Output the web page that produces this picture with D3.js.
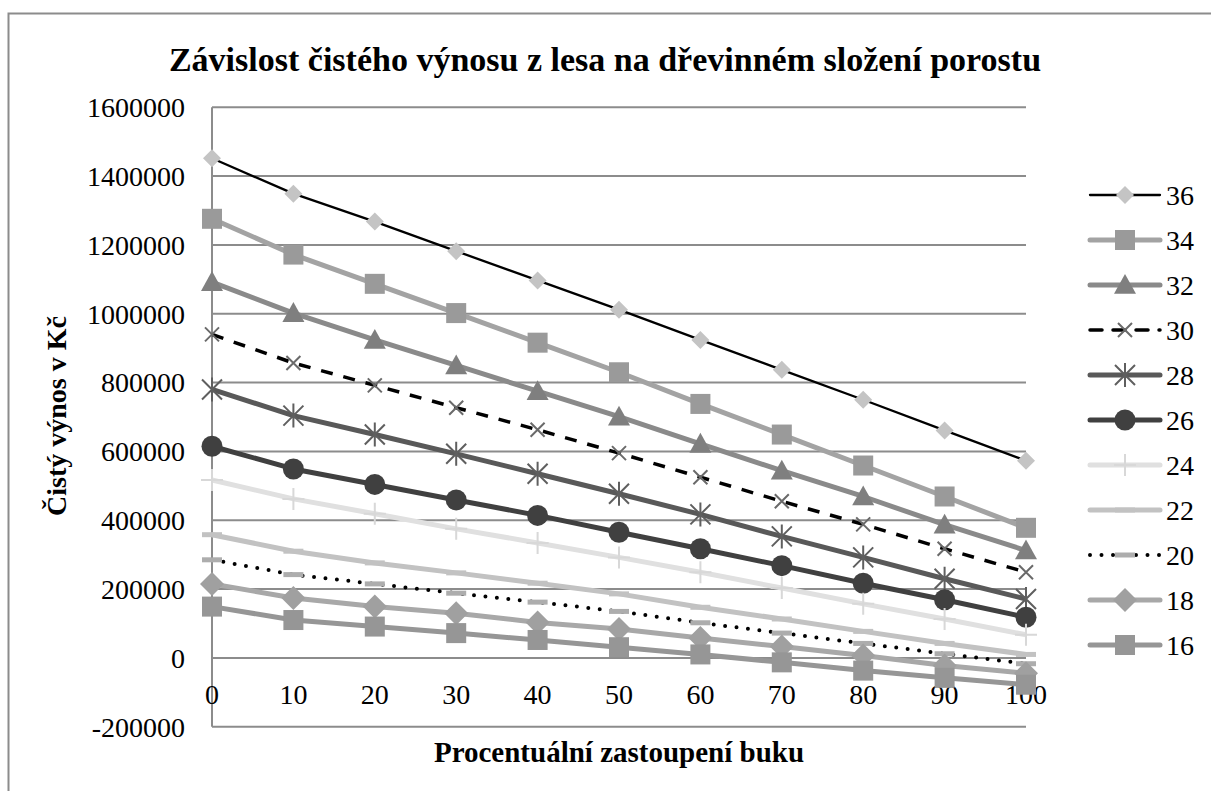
<!DOCTYPE html>
<html><head><meta charset="utf-8">
<script src="https://cdn.jsdelivr.net/npm/d3@7"></script>
<style>body{margin:0;background:#fff}svg{display:block}text{font-family:"Liberation Serif","Times New Roman",serif}</style>
</head><body><svg id="c" width="1211" height="791"></svg>
<script>
const title = "Závislost čistého výnosu z lesa na dřevinném složení porostu";
const xTitle = "Procentuální zastoupení buku";
const yTitle = "Čistý výnos v Kč";
const categories = [0,10,20,30,40,50,60,70,80,90,100];
const yTicks = [-200000,0,200000,400000,600000,800000,1000000,1200000,1400000,1600000];
const seriesNames = ["36","34","32","30","28","26","24","22","20","18","16"];
const s36 = [1452000,1349000,1268000,1182000,1097000,1012000,924000,837000,750000,661000,573000];
const s34 = [1276000,1172000,1087000,1002000,916000,830000,738000,649000,559000,469000,378000];
const s32 = [1092000,1002000,924000,850000,775000,701000,622000,544000,469000,387000,312000];
const s30 = [940000,857000,792000,727000,663000,595000,525000,455000,388000,317000,249000];
const s28 = [780000,704000,649000,593000,535000,477000,417000,353000,292000,230000,171000];
const s26 = [615000,549000,504000,459000,414000,365000,317000,268000,217000,169000,118000];
const s24 = [517000,462000,419000,375000,334000,292000,249000,203000,157000,113000,67000];
const s22 = [358000,310000,276000,247000,217000,186000,147000,113000,77000,42000,10000];
const s20 = [285000,242000,215000,188000,162000,135000,102000,72000,42000,12000,-17000];
const s18 = [215000,174000,149000,130000,103000,84000,58000,33000,7000,-22000,-45000];
const s16 = [149000,110000,91000,72000,52000,31000,10000,-13000,-37000,-58000,-78000];
const seriesValues = [s36,s34,s32,s30,s28,s26,s24,s22,s20,s18,s16];

const styles = {
 "36":{stroke:"#000",w:2.3,dash:null,marker:"diamond",mfill:"#c4c4c4",msize:9},
 "34":{stroke:"#a3a3a3",w:5,dash:null,marker:"square",mfill:"#9a9a9a",msize:10},
 "32":{stroke:"#8a8a8a",w:5,dash:null,marker:"triangle",mfill:"#7f7f7f",msize:11},
 "30":{stroke:"#000",w:3.5,dash:"12,11",marker:"x",mfill:"#6a6a6a",msize:7},
 "28":{stroke:"#595959",w:5,dash:null,marker:"star",mfill:"#5f5f5f",msize:10},
 "26":{stroke:"#404040",w:5,dash:null,marker:"circle",mfill:"#404040",msize:10.5},
 "24":{stroke:"#e0e0e0",w:5,dash:null,marker:"plus",mfill:"#d8d8d8",msize:11},
 "22":{stroke:"#c2c2c2",w:5,dash:null,marker:"dash",mfill:"#c2c2c2",msize:10},
 "20":{stroke:"#000",w:4,dash:"0,11.5",cap:"round",marker:"dash",mfill:"#adadad",msize:10},
 "18":{stroke:"#a8a8a8",w:5,dash:null,marker:"diamond",mfill:"#a0a0a0",msize:12},
 "16":{stroke:"#969696",w:5,dash:null,marker:"square",mfill:"#969696",msize:10}
};

const svg = d3.select("#c");
svg.append("rect").attr("x",8.5).attr("y",13.5).attr("width",1210).attr("height",800)
  .attr("fill","#fff").attr("stroke","#8c8c8c").attr("stroke-width",2);

const x = d3.scaleLinear().domain([0,100]).range([212,1026]);
const y = d3.scaleLinear().domain([-200000,1600000]).range([726.7,107.3]);

svg.append("text").attr("x",605).attr("y",71).attr("text-anchor","middle")
  .attr("font-size",34).attr("font-weight","bold").text(title);

const grid = svg.append("g");
grid.selectAll("line").data(yTicks).join("line")
  .attr("x1",x(0)).attr("x2",x(100)).attr("y1",d=>y(d)).attr("y2",d=>y(d))
  .attr("stroke","#8c8c8c").attr("stroke-width",2);
svg.append("line").attr("x1",x(0)).attr("x2",x(0)).attr("y1",y(1600000)).attr("y2",y(-200000))
  .attr("stroke","#8c8c8c").attr("stroke-width",2);

svg.append("g").selectAll("text").data(yTicks).join("text")
  .attr("x",185).attr("y",d=>y(d)).attr("dy","0.35em").attr("text-anchor","end")
  .attr("font-size",28).text(d=>d);
svg.append("g").selectAll("text").data(categories).join("text")
  .attr("x",d=>x(d)).attr("y",y(0)+36).attr("dy","0.35em").attr("text-anchor","middle")
  .attr("font-size",28).text(d=>d);

svg.append("text").attr("x",619).attr("y",762).attr("text-anchor","middle")
  .attr("font-size",29).attr("font-weight","bold").text(xTitle);
svg.append("text").attr("transform","translate(66,416) rotate(-90)").attr("text-anchor","middle")
  .attr("font-size",28).attr("font-weight","bold").text(yTitle);

function drawMarker(g, type, cx, cy, st){
  const s = st.msize, f = st.mfill;
  if(type==="diamond") g.append("path").attr("d",`M${cx},${cy-s}L${cx+s},${cy}L${cx},${cy+s}L${cx-s},${cy}Z`).attr("fill",f);
  else if(type==="square") g.append("rect").attr("x",cx-s).attr("y",cy-s).attr("width",2*s).attr("height",2*s).attr("fill",f);
  else if(type==="triangle") g.append("path").attr("d",`M${cx},${cy-s}L${cx+s},${cy+s*0.8}L${cx-s},${cy+s*0.8}Z`).attr("fill",f);
  else if(type==="circle") g.append("circle").attr("cx",cx).attr("cy",cy).attr("r",s).attr("fill",f);
  else if(type==="x") g.append("path").attr("d",`M${cx-s},${cy-s}L${cx+s},${cy+s}M${cx-s},${cy+s}L${cx+s},${cy-s}`).attr("stroke",f).attr("stroke-width",2);
  else if(type==="star") g.append("path").attr("d",`M${cx-s},${cy-s}L${cx+s},${cy+s}M${cx-s},${cy+s}L${cx+s},${cy-s}M${cx},${cy-s*1.2}L${cx},${cy+s*1.2}`).attr("stroke",f).attr("stroke-width",2);
  else if(type==="plus") g.append("path").attr("d",`M${cx-s},${cy}L${cx+s},${cy}M${cx},${cy-s}L${cx},${cy+s}`).attr("stroke",f).attr("stroke-width",2);
  else if(type==="dash") g.append("rect").attr("x",cx-s).attr("y",cy-2.5).attr("width",2*s).attr("height",5).attr("fill",f);
}

const line = d3.line().x((d,i)=>x(categories[i])).y(d=>y(d));
const plot = svg.append("g");
seriesNames.forEach((name,k)=>{
  const st = styles[name];
  const g = plot.append("g");
  g.append("path").attr("d",line(seriesValues[k])).attr("fill","none")
   .attr("stroke",st.stroke).attr("stroke-width",st.w)
   .attr("stroke-dasharray",st.dash).attr("stroke-linecap",st.cap||"butt").attr("stroke-linejoin","round");
  seriesValues[k].forEach((v,i)=>drawMarker(g, st.marker, x(categories[i]), y(v), st));
});

const leg = svg.append("g");
seriesNames.forEach((name,k)=>{
  const st = styles[name];
  const cy = 195 + k*45;
  const g = leg.append("g");
  g.append("line").attr("x1",1090).attr("x2",1160).attr("y1",cy).attr("y2",cy)
   .attr("stroke",st.stroke).attr("stroke-width",st.w).attr("stroke-dasharray",st.dash)
   .attr("stroke-linecap",st.cap||"round");
  drawMarker(g, st.marker, 1125, cy, st);
  g.append("text").attr("x",1166).attr("y",cy).attr("dy","0.35em").attr("font-size",28).text(name);
});
</script></body></html>
